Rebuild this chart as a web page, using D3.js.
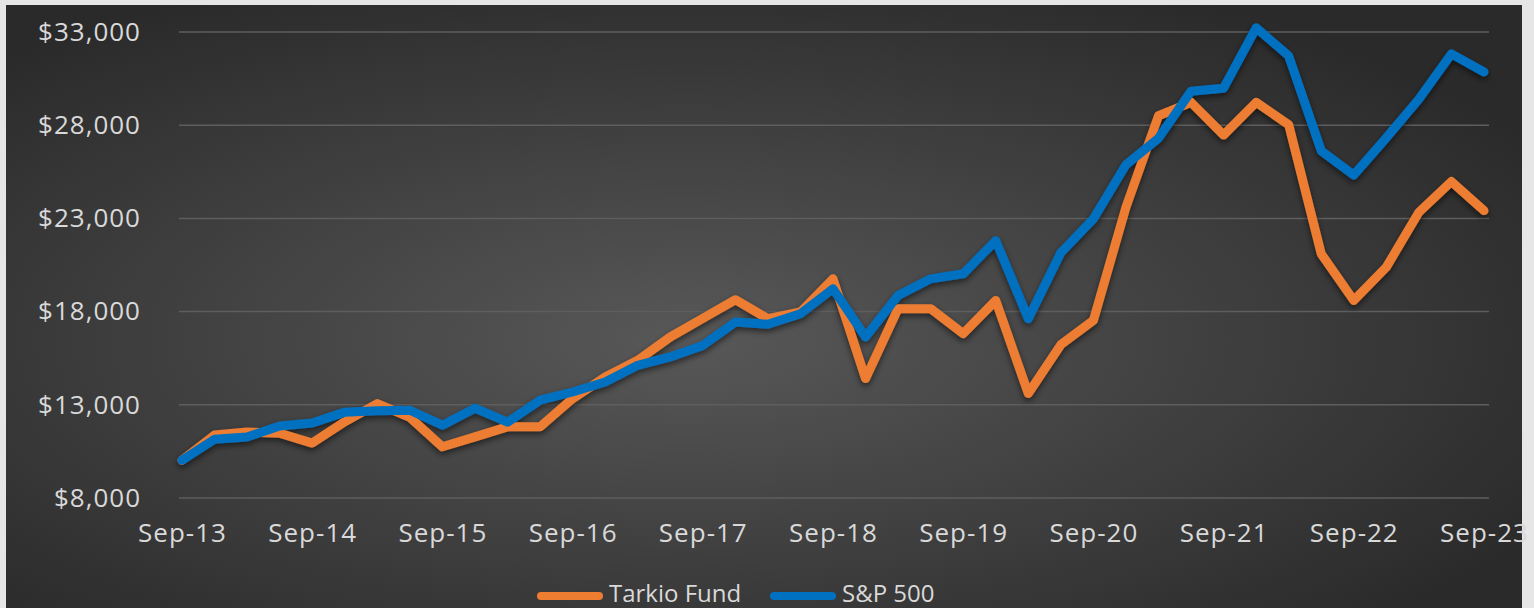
<!DOCTYPE html>
<html lang="en">
<head>
    <meta charset="UTF-8">
    <title>Tarkio Fund vs S&amp;P 500</title>
    <style>
        body {
            margin: 0;
            padding: 0;
            background: #e6e6e6;
            overflow: hidden;
        }

        text {
            font-family: "Open Sans", "DejaVu Sans", sans-serif;
            fill: #d9d9d9;
        }

        .axis text {
            font-size: 26px;
            letter-spacing: 1px;
        }

        .legend text {
            font-size: 24px;
        }
    </style>
</head>
<body>
<svg id="chart"></svg>

<script src="https://d3js.org/d3.v7.min.js"></script>
<script>
    // quarterly growth of $10,000, Sep-13 .. Sep-23
    var quarters = ["Sep-13", "Dec-13", "Mar-14", "Jun-14", "Sep-14", "Dec-14", "Mar-15", "Jun-15",
        "Sep-15", "Dec-15", "Mar-16", "Jun-16", "Sep-16", "Dec-16", "Mar-17", "Jun-17",
        "Sep-17", "Dec-17", "Mar-18", "Jun-18", "Sep-18", "Dec-18", "Mar-19", "Jun-19",
        "Sep-19", "Dec-19", "Mar-20", "Jun-20", "Sep-20", "Dec-20", "Mar-21", "Jun-21",
        "Sep-21", "Dec-21", "Mar-22", "Jun-22", "Sep-22", "Dec-22", "Mar-23", "Jun-23", "Sep-23"];

    var tarkio = [10000, 11350, 11520, 11450, 10920, 12060, 13040, 12300,
        10720, 11250, 11790, 11790, 13300, 14470, 15360, 16610,
        17610, 18610, 17590, 17950, 19730, 14380, 18130, 18130,
        16790, 18570, 13580, 16200, 17500, 23570, 28480, 29200,
        27450, 29200, 28000, 21070, 18570, 20360, 23300, 24950, 23390];

    var sp500 = [10000, 11130, 11240, 11840, 12000, 12580, 12650, 12680,
        11880, 12790, 12040, 13220, 13660, 14200, 15090, 15540,
        16160, 17410, 17290, 17860, 19200, 16610, 18840, 19730,
        20000, 21780, 17590, 21130, 22950, 25850, 27270, 29800,
        29960, 33200, 31690, 26600, 25300, 27300, 29370, 31800, 30830];

    var yTicks = [8000, 13000, 18000, 23000, 28000, 33000];
    var xTickLabels = quarters.filter(function (d, i) { return i % 4 === 0; });

    var seriesNames = ["Tarkio Fund", "S&P 500"];
    var seriesColors = ["#ED7D31", "#0070C0"];

    var W = 1534, H = 608;

    var svg = d3.select("#chart")
        .attr("width", W)
        .attr("height", H);

    var defs = svg.append("defs");

    var grad = defs.append("radialGradient")
        .attr("id", "bg")
        .attr("cx", "45%")
        .attr("cy", "55%")
        .attr("r", "65%");
    grad.append("stop").attr("offset", "0%").attr("stop-color", "#585858");
    grad.append("stop").attr("offset", "100%").attr("stop-color", "#2a2a2a");

    var shadow = defs.append("filter")
        .attr("id", "shadow")
        .attr("x", "-5%").attr("y", "-10%")
        .attr("width", "110%").attr("height", "130%");
    shadow.append("feDropShadow")
        .attr("dx", 0)
        .attr("dy", 3)
        .attr("stdDeviation", 3)
        .attr("flood-color", "#000")
        .attr("flood-opacity", 0.55);

    // chart panel
    svg.append("rect")
        .attr("x", 6)
        .attr("y", 5)
        .attr("width", 1516)
        .attr("height", H)
        .attr("fill", "url(#bg)");

    var x = d3.scalePoint()
        .domain(quarters)
        .range([182, 1484]);

    var y = d3.scaleLinear()
        .domain([8000, 33000])
        .range([497.5, 31.5]);

    var gridLeft = 179, gridRight = 1489;

    // y axis with gridlines
    var yAxis = svg.append("g")
        .attr("class", "axis")
        .attr("transform", "translate(" + gridLeft + ",0)")
        .call(d3.axisLeft(y)
            .tickValues(yTicks)
            .tickSize(-(gridRight - gridLeft))
            .tickPadding(38)
            .tickFormat(function (d) { return "$" + d3.format(",")(d); }));
    yAxis.select(".domain").remove();
    yAxis.selectAll(".tick line")
        .attr("stroke", "#5e5e5e")
        .attr("stroke-width", 1.5);
    yAxis.selectAll(".tick text")
        .attr("dy", "0.34em");

    // x axis labels
    var xAxis = svg.append("g")
        .attr("class", "axis")
        .attr("transform", "translate(0," + y(8000) + ")")
        .call(d3.axisBottom(x)
            .tickValues(xTickLabels)
            .tickSize(0)
            .tickPadding(44));
    xAxis.select(".domain").remove();
    xAxis.selectAll(".tick text")
        .attr("dy", "0");

    var line = d3.line()
        .x(function (d, i) { return x(quarters[i]); })
        .y(function (d) { return y(d); });

    var series = [tarkio, sp500];

    svg.append("g")
        .attr("filter", "url(#shadow)")
        .selectAll("path")
        .data(series)
        .enter()
        .append("path")
        .attr("d", line)
        .attr("fill", "none")
        .attr("stroke", function (d, i) { return seriesColors[i]; })
        .attr("stroke-width", 9)
        .attr("stroke-linejoin", "round")
        .attr("stroke-linecap", "round");

    // legend
    var legendX = [541, 774];
    var legend = svg.append("g")
        .attr("class", "legend")
        .selectAll("g")
        .data(seriesNames)
        .enter()
        .append("g")
        .attr("transform", function (d, i) { return "translate(" + legendX[i] + ",596)"; });

    legend.append("line")
        .attr("x1", 0)
        .attr("x2", 58)
        .attr("stroke", function (d, i) { return seriesColors[i]; })
        .attr("stroke-width", 8)
        .attr("stroke-linecap", "round");

    legend.append("text")
        .attr("x", 68)
        .attr("y", 6)
        .text(function (d) { return d; });
</script>
</body>
</html>
